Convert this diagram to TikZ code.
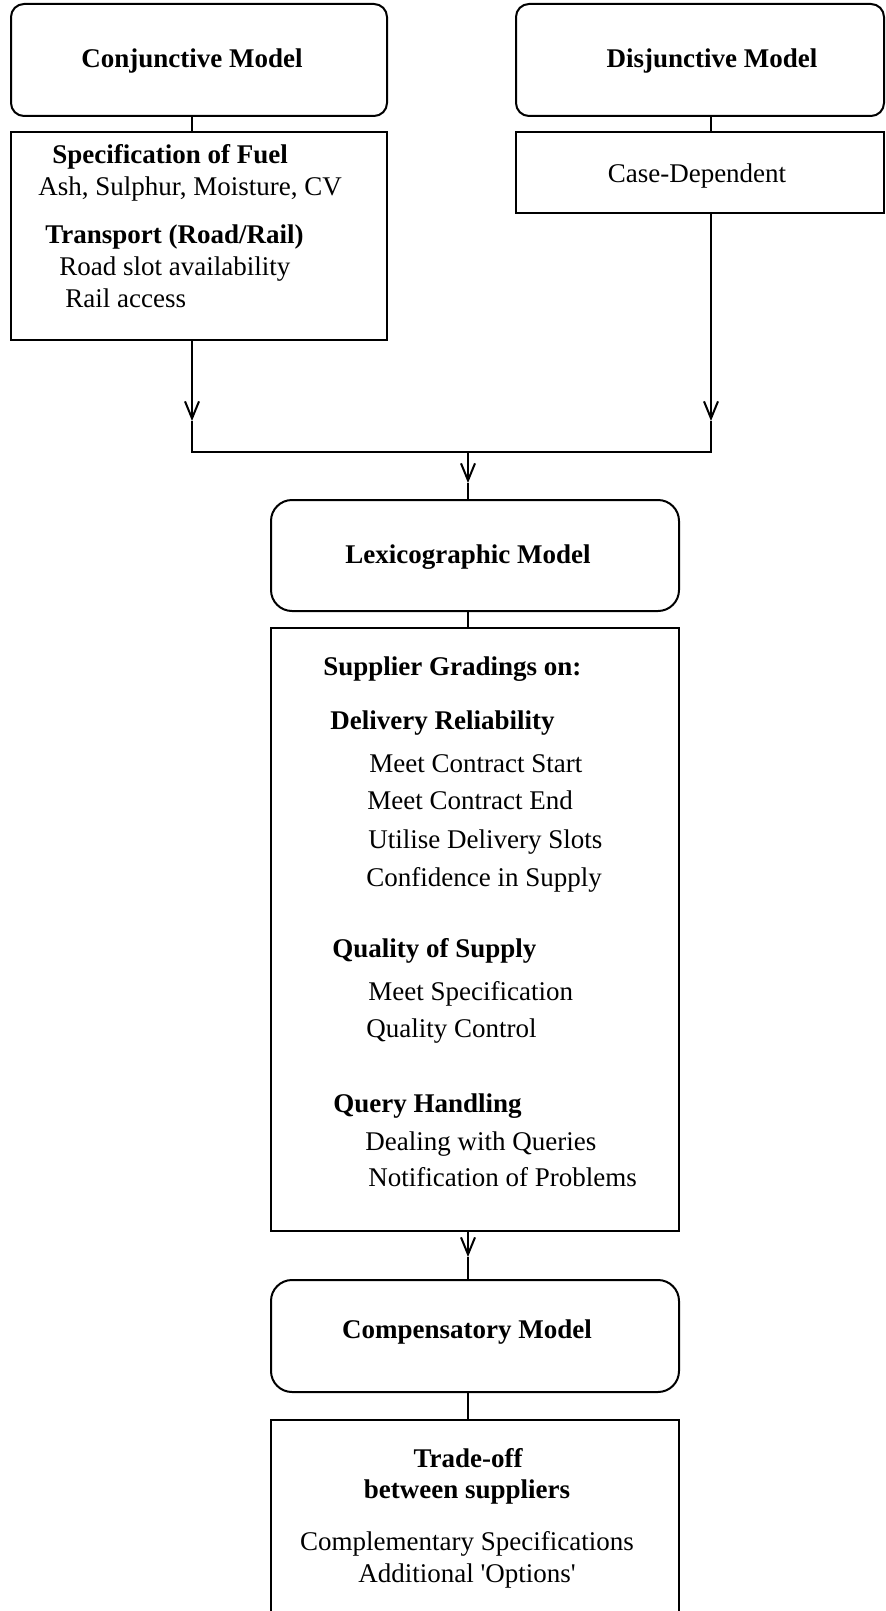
\documentclass[tikz,border=0pt]{standalone}
\usepackage{fontspec}
\setmainfont{Liberation Serif}
\usetikzlibrary{arrows.meta}
\tikzset{
  model/.style={draw, line width=1pt, rounded corners=6.5pt, inner sep=0pt},
  bigmodel/.style={model, rounded corners=10.5pt},
  listbox/.style={draw, line width=1pt, inner sep=0pt},
  txt/.style={inner sep=0pt, font=\fontsize{13.5}{16}\selectfont},
  head/.style={inner sep=0pt, font=\fontsize{13.5}{16}\selectfont\bfseries},
  flow/.style={line width=1pt, -{Straight Barb[length=8.5pt,width=7pt]}},
  link/.style={line width=1pt}
}
\begin{document}
\begin{tikzpicture}[x=0.5pt,y=-0.5pt]
\clip (0,0) rectangle (885,1611);

% top row
\node[model, minimum width=188pt, minimum height=56pt] (conj) at (199,60) {};
\node[listbox, minimum width=188pt, minimum height=104pt] (spec) at (199,236) {};
\node[model, minimum width=184pt, minimum height=56pt] (disj) at (700,60) {};
\node[listbox, minimum width=184pt, minimum height=40.5pt] (case) at (700,172.5) {};

\node[head, anchor=base] (conjt) at (192,68) {Conjunctive Model};
\node[head, anchor=base] (disjt) at (712,68) {Disjunctive Model};
\node[txt, anchor=base] (caset) at (697,182) {Case-Dependent};

\node[head, anchor=base west] (fuel) at (52,163) {Specification of Fuel};
\node[txt, anchor=base west] (fuela) at (38,195) {Ash, Sulphur, Moisture, CV};
\node[head, anchor=base west] (trans) at (45,243) {Transport (Road/Rail)};
\node[txt, anchor=base west] (transa) at (59,275) {Road slot availability};
\node[txt, anchor=base west] (transb) at (65,307) {Rail access};

% middle column
\node[bigmodel, minimum width=204pt, minimum height=55.5pt] (lexi) at (475,555.5) {};
\node[listbox, minimum width=204pt, minimum height=301.5pt] (grad) at (475,929.5) {};
\node[bigmodel, minimum width=204pt, minimum height=56pt] (comp) at (475,1336) {};
\node[listbox, minimum width=204pt, minimum height=110pt] (trade) at (475,1530) {};

\node[head, anchor=base] (lexit) at (468,563) {Lexicographic Model};
\node[head, anchor=base] (compt) at (467,1338) {Compensatory Model};

\node[head, anchor=base west] (gradt) at (323,675) {Supplier Gradings on:};
\node[head, anchor=base west] (deliv) at (330,729) {Delivery Reliability};
\node[head, anchor=base west] (qual) at (332,957) {Quality of Supply};
\node[head, anchor=base west] (query) at (333,1112) {Query Handling};
\foreach \x/\y/\t in {369/772/Meet Contract Start, 367/809/Meet Contract End,
    368/848/Utilise Delivery Slots, 366/886/Confidence in Supply,
    368/1000/Meet Specification, 366/1037/Quality Control,
    365/1150/Dealing with Queries, 368/1186/Notification of Problems}
    \node[txt, anchor=base west] (item\y) at (\x,\y) {\t};

\node[head, anchor=base] (tradea) at (468,1467) {Trade-off};
\node[head, anchor=base] (tradeb) at (467,1498) {between suppliers};
\node[txt, anchor=base] (tradec) at (467,1550) {Complementary Specifications};
\node[txt, anchor=base] (traded) at (467,1582) {Additional \textquotesingle Options\textquotesingle};

% connectors
\coordinate (tipl) at (192,421);
\coordinate (tipr) at (711,421);
\coordinate (jl) at (192,452);
\coordinate (jr) at (711,452);
\coordinate (jm) at (468,452);
\coordinate (tipm) at (468,483);
\coordinate (tipc) at (468,1257);

\draw[link] ([xshift=-3.5pt]conj.south) -- ([xshift=-3.5pt]spec.north);
\draw[link] (tipr |- disj.south) -- (tipr |- case.north);
\draw[flow] ([xshift=-3.5pt]spec.south) -- (tipl);
\draw[flow] (tipr |- case.south) -- (tipr);
\draw[link] (tipl) -- (jl) -- (jr) -- (tipr);
\draw[flow] (jm) -- (tipm);
\draw[link] (tipm) -- (tipm |- lexi.north);
\draw[link] (tipm |- lexi.south) -- (tipm |- grad.north);
\draw[flow] (tipc |- grad.south) -- (tipc);
\draw[link] (tipc) -- (tipc |- comp.north);
\draw[link] (tipc |- comp.south) -- (tipc |- trade.north);
\end{tikzpicture}
\end{document}
